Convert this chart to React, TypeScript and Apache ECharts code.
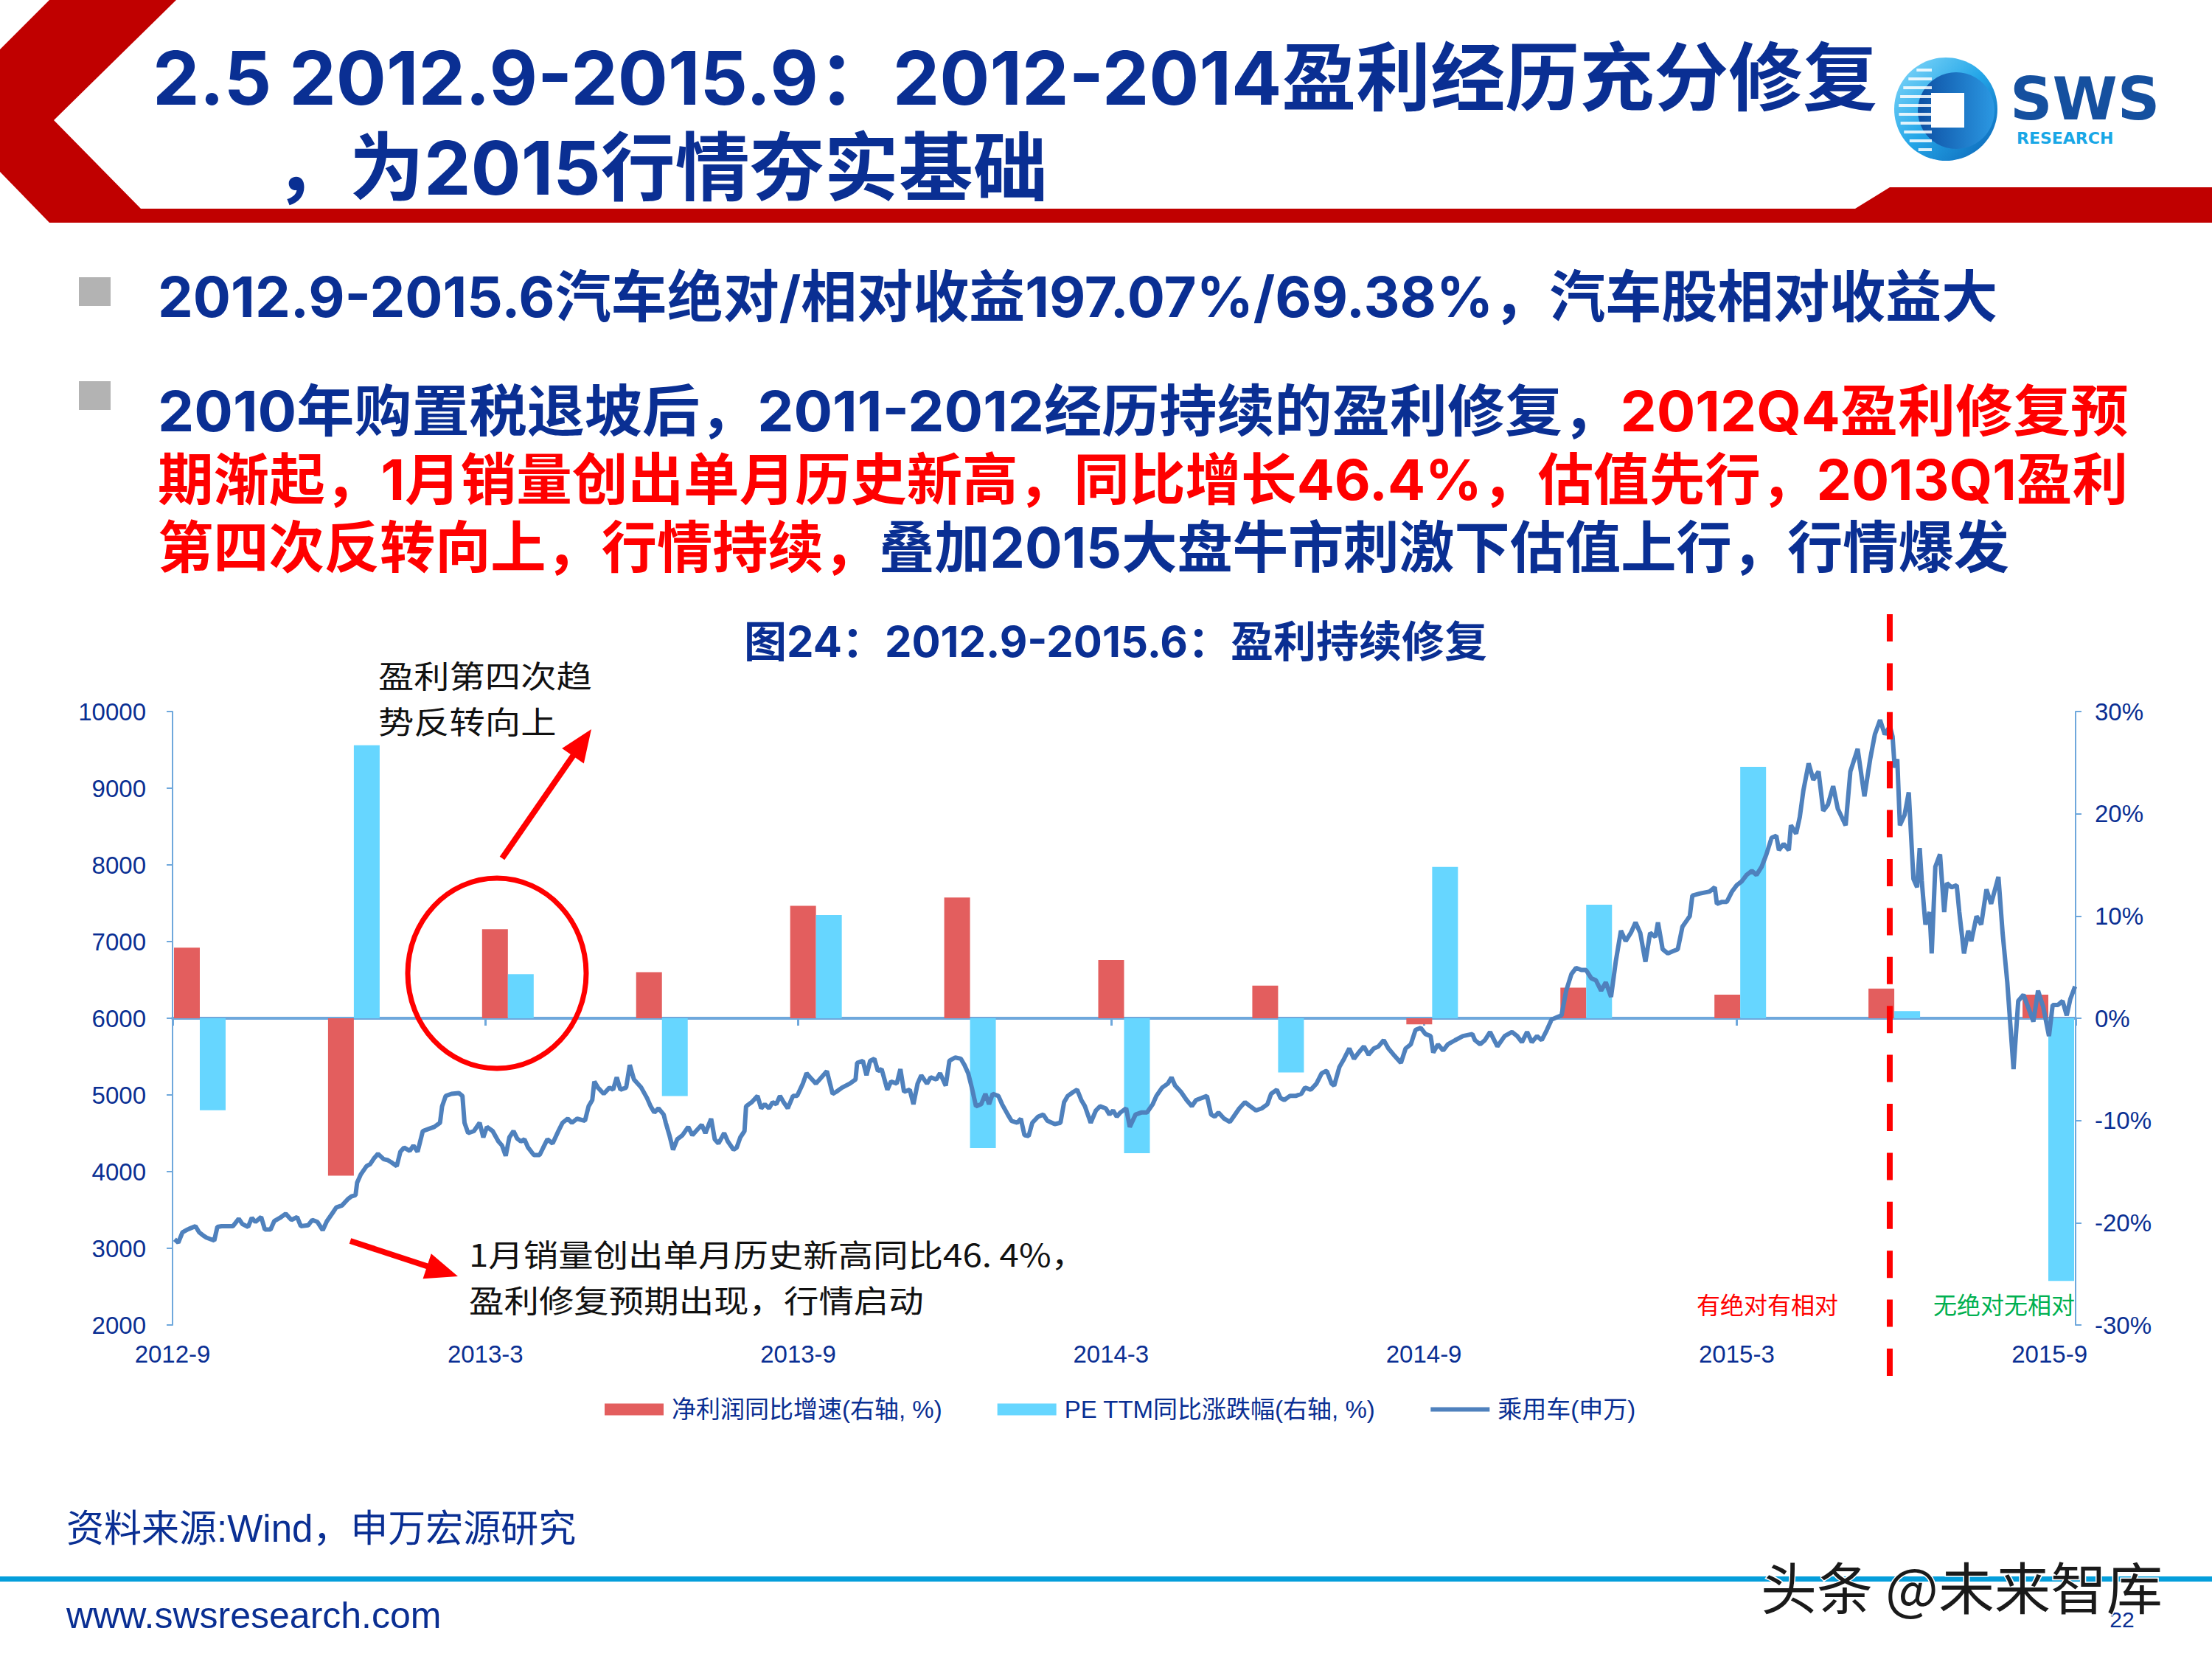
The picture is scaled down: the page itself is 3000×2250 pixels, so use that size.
import React, { useEffect, useRef } from 'react';
import * as echarts from 'echarts';

// ---------- DATA ----------
const quarters = ['2012Q3', '2012Q4', '2013Q1', '2013Q2', '2013Q3', '2013Q4', '2014Q1', '2014Q2', '2014Q3', '2014Q4', '2015Q1', '2015Q2', '2015Q3'];
// 净利润同比增速(右轴, %)
const profitGrowth = [6.9, -15.4, 8.7, 4.5, 11.0, 11.8, 5.7, 3.2, -0.6, 3.0, 2.3, 2.9, 2.3];
// PE TTM同比涨跌幅(右轴, %)
const peChange = [-9.0, 26.7, 4.3, -7.6, 10.1, -12.7, -13.2, -5.3, 14.8, 11.1, 24.6, 0.7, -25.7];
// x-axis tick labels (every 6 months starting 2012-9)
const xTickLabels = ['2012-9', '2013-3', '2013-9', '2014-3', '2014-9', '2015-3', '2015-9'];
// 乘用车(申万) index: [months since 2012-09-01, level]
const carIndex: [number, number][] = [
  [0.04, 3117], [0.11, 3074], [0.19, 3209], [0.29, 3246], [0.44, 3289], [0.51, 3209], [0.58, 3171], [0.65, 3139], [0.8, 3101], [0.86, 3279], [0.94, 3289], [1.16, 3289], [1.27, 3386], [1.34, 3316], [1.45, 3279], [1.52, 3397], [1.59, 3343], [1.7, 3408], [1.77, 3246], [1.88, 3246], [1.95, 3354], [2.06, 3397], [2.17, 3451], [2.28, 3370], [2.39, 3408], [2.46, 3289], [2.6, 3300], [2.68, 3370], [2.78, 3343], [2.88, 3236], [2.96, 3354], [3.07, 3462], [3.14, 3532], [3.25, 3559], [3.36, 3640], [3.43, 3677], [3.51, 3694], [3.54, 3855], [3.61, 3963], [3.72, 4071], [3.79, 4098], [3.87, 4179], [3.94, 4232], [4.05, 4162], [4.12, 4152], [4.19, 4125], [4.3, 4071], [4.37, 4259], [4.44, 4313], [4.55, 4270], [4.62, 4340], [4.7, 4259], [4.8, 4529], [4.91, 4556], [5.02, 4583], [5.13, 4637], [5.17, 4852], [5.24, 4987], [5.35, 5014], [5.49, 5025], [5.56, 4987], [5.6, 4637], [5.67, 4502], [5.78, 4529], [5.89, 4637], [5.96, 4447], [6.03, 4583], [6.14, 4529], [6.25, 4394], [6.32, 4340], [6.39, 4206], [6.46, 4447], [6.54, 4529], [6.61, 4432], [6.68, 4394], [6.75, 4421], [6.82, 4313], [6.93, 4216], [7.04, 4216], [7.11, 4313], [7.19, 4421], [7.29, 4367], [7.4, 4529], [7.48, 4637], [7.58, 4690], [7.66, 4637], [7.76, 4690], [7.91, 4663], [7.98, 4852], [8.05, 4932], [8.09, 5175], [8.16, 5095], [8.27, 5014], [8.38, 5095], [8.45, 5068], [8.52, 5229], [8.59, 5068], [8.7, 5095], [8.77, 5390], [8.85, 5202], [8.92, 5148], [8.99, 5095], [9.1, 4960], [9.17, 4852], [9.24, 4771], [9.32, 4825], [9.42, 4744], [9.46, 4637], [9.53, 4475], [9.6, 4286], [9.68, 4421], [9.78, 4475], [9.89, 4583], [9.97, 4475], [10.04, 4529], [10.15, 4610], [10.22, 4502], [10.33, 4690], [10.4, 4421], [10.47, 4367], [10.58, 4502], [10.65, 4394], [10.76, 4286],
  [10.82, 4313], [10.89, 4447], [10.97, 4529], [11.0, 4852], [11.11, 4906], [11.22, 4987], [11.29, 4825], [11.36, 4879], [11.44, 4825], [11.51, 4906], [11.58, 4879], [11.65, 4987], [11.72, 4906], [11.8, 4825], [11.9, 4987], [11.98, 4987], [12.09, 5148], [12.16, 5283], [12.23, 5229], [12.34, 5148], [12.41, 5202], [12.55, 5310], [12.66, 5014], [12.73, 5041], [12.84, 5095], [12.99, 5148], [13.1, 5202], [13.13, 5418], [13.24, 5445], [13.31, 5256], [13.38, 5445], [13.46, 5472], [13.53, 5310], [13.6, 5337], [13.71, 5068], [13.78, 5175], [13.89, 5148], [13.96, 5337], [14.03, 5041], [14.14, 5068], [14.21, 4879], [14.29, 5148], [14.36, 5256], [14.47, 5148], [14.54, 5229], [14.65, 5202], [14.72, 5283], [14.83, 5121], [14.9, 5445], [15.01, 5488], [15.12, 5472], [15.19, 5390], [15.26, 5283], [15.33, 5095], [15.41, 4852], [15.51, 4879], [15.59, 5014], [15.66, 4879], [15.73, 5014], [15.84, 4987], [15.91, 4879], [16.02, 4744], [16.09, 4663], [16.2, 4637], [16.27, 4690], [16.34, 4475], [16.42, 4464], [16.49, 4637], [16.6, 4717], [16.7, 4744], [16.78, 4663], [16.92, 4620], [17.03, 4637], [17.1, 4906], [17.17, 4987], [17.28, 5041], [17.35, 5068], [17.43, 4933], [17.5, 4852], [17.61, 4637], [17.71, 4798], [17.79, 4852], [17.9, 4825], [17.97, 4744], [18.04, 4798], [18.11, 4717], [18.18, 4771], [18.29, 4825], [18.36, 4583], [18.47, 4744], [18.58, 4771], [18.69, 4771], [18.8, 4879], [18.87, 4987], [18.98, 5095], [19.09, 5148], [19.16, 5229], [19.23, 5121], [19.34, 5041], [19.45, 4933], [19.55, 4852], [19.63, 4933], [19.74, 4960], [19.84, 4987], [19.92, 4744], [19.99, 4717], [20.06, 4771], [20.17, 4690], [20.28, 4648], [20.35, 4717], [20.46, 4825], [20.57, 4906], [20.67, 4852], [20.78, 4798], [20.89, 4825], [21.0, 4879], [21.07, 5014], [21.18, 5068], [21.25, 4960], [21.32, 4933], [21.43, 4987], [21.54, 4987], [21.65, 5014], [21.72, 5095], [21.83, 5068], [21.94, 5148], [22.04, 5283], [22.12, 5310],
  [22.14, 5310], [22.23, 5148], [22.28, 5121], [22.38, 5364], [22.47, 5472], [22.57, 5606], [22.66, 5472], [22.75, 5553], [22.85, 5633], [22.94, 5525], [23.04, 5606], [23.13, 5633], [23.23, 5714], [23.32, 5606], [23.42, 5525], [23.56, 5418], [23.65, 5606], [23.75, 5660], [23.84, 5848], [23.94, 5875], [24.03, 5794], [24.13, 5768], [24.18, 5552], [24.27, 5660], [24.37, 5579], [24.46, 5660], [24.6, 5714], [24.75, 5768], [24.93, 5794], [24.98, 5714], [25.08, 5660], [25.17, 5714], [25.27, 5821], [25.41, 5633], [25.55, 5768], [25.69, 5821], [25.79, 5768], [25.88, 5687], [25.98, 5821], [26.07, 5687], [26.17, 5768], [26.26, 5714], [26.36, 5848], [26.45, 5984], [26.54, 6010], [26.64, 6037], [26.73, 6360], [26.83, 6576], [26.92, 6657], [27.02, 6630], [27.11, 6630], [27.21, 6522], [27.3, 6495], [27.4, 6360], [27.49, 6468], [27.59, 6279], [27.68, 6737], [27.78, 7142], [27.87, 7007], [27.97, 7114], [28.06, 7250], [28.15, 7114], [28.25, 6737], [28.34, 7114], [28.44, 7060], [28.49, 7250], [28.58, 6900], [28.68, 6845], [28.77, 6872], [28.87, 6900], [28.96, 7195], [29.1, 7331], [29.15, 7600], [29.29, 7626], [29.48, 7653], [29.58, 7708], [29.62, 7492], [29.72, 7518], [29.81, 7518], [29.91, 7653], [30.0, 7734], [30.1, 7788], [30.19, 7869], [30.29, 7922], [30.38, 7869], [30.48, 7977], [30.57, 8138], [30.67, 8354], [30.76, 8380], [30.81, 8192], [30.9, 8274], [31.0, 8192], [31.04, 8516], [31.14, 8407], [31.21, 8623], [31.28, 8974], [31.38, 9324], [31.47, 9109], [31.57, 9217], [31.66, 8705], [31.75, 8785], [31.85, 9027], [31.94, 8730], [32.09, 8516], [32.18, 9217], [32.32, 9512], [32.45, 8893], [32.56, 9378], [32.65, 9701], [32.75, 9890], [32.84, 9701], [32.94, 9809], [32.99, 9674], [33.03, 9269], [33.08, 9378], [33.13, 8516], [33.22, 8651], [33.3, 8946], [33.39, 7816], [33.46, 7708], [33.51, 8219], [33.55, 7788], [33.62, 7222], [33.7, 7384], [33.74, 6845], [33.81, 7976], [33.9, 8138], [33.98, 7384], [34.03, 7761], [34.12, 7708], [34.22, 7734], [34.27, 7384], [34.36, 6845], [34.44, 7142], [34.5, 7007], [34.6, 7331], [34.69, 7222], [34.79, 7680], [34.88, 7492], [35.02, 7843], [35.1, 7114], [35.19, 6468], [35.31, 5337], [35.4, 6226], [35.5, 6307], [35.59, 6145], [35.69, 5956], [35.78, 6360], [35.88, 6145], [35.99, 5768], [36.06, 6172], [36.16, 6172], [36.25, 6226], [36.33, 6037], [36.4, 6253], [36.49, 6415],
];
const dividerDate = '2015-05-30';

// ---------- STYLE ----------
const NAVY = '#0A2F93';
const RED = '#FF0000';
const BAR_RED = '#E35E5E';
const BAR_BLUE = '#66D6FF';
const LINE_BLUE = '#4F81BD';
const AXIS_BLUE = '#6FA8DC';
const CJK = "'Noto Sans CJK SC'";
const MIX = "Inter, 'Noto Sans CJK SC'";
const ARIAL = "'Liberation Sans', 'Noto Sans CJK SC'";

function monthsSince(d: string) {
  const [y, m, day] = d.split('-').map(Number);
  const dim = new Date(y, m, 0).getDate();
  return (y - 2012) * 12 + (m - 9) + (day - 1) / dim;
}

function arrow(x1: number, y1: number, x2: number, y2: number, w: number, hl: number, hw: number, color: string) {
  const dx = x2 - x1, dy = y2 - y1, len = Math.hypot(dx, dy);
  const ux = dx / len, uy = dy / len;
  const bx = x2 - ux * hl, by = y2 - uy * hl;
  return [
    { type: 'line', z: 100, shape: { x1, y1, x2: bx + ux * 4, y2: by + uy * 4 }, style: { stroke: color, lineWidth: w } },
    { type: 'polygon', z: 100, shape: { points: [[x2, y2], [bx - uy * hw, by + ux * hw], [bx + uy * hw, by - ux * hw]] }, style: { fill: color } },
  ];
}

function txt(x: number, y: number, text: string, size: number, color: string, opts: any = {}) {
  return {
    type: 'text', x, y, z: opts.z ?? 50, scaleX: opts.scaleX ?? 1,
    style: {
      text, fill: color, fontSize: size, fontWeight: opts.weight ?? 'normal', fontFamily: opts.family ?? CJK,
      align: opts.align ?? 'left', verticalAlign: 'middle', rich: opts.rich, stroke: opts.stroke, lineWidth: opts.lineWidth,
      lineHeight: opts.lineHeight,
    },
  };
}

function buildStatic(): any[] {
  const els: any[] = [];
  // header red band
  els.push({
    type: 'polygon', z: 10,
    shape: { points: [[67, 0], [239, 0], [73, 163], [191, 283], [2516, 283], [2563, 254], [3000, 254], [3000, 302], [67, 302], [0, 233], [0, 67]] },
    style: { fill: '#C00000' },
  });
  // title
  els.push(txt(207, 105, '2.5 2012.9-2015.9：2012-2014盈利经历充分修复', 101, NAVY, { weight: 'bold', family: MIX }));
  els.push(txt(373, 227, '，为2015行情夯实基础', 101, NAVY, { weight: 'bold', family: MIX }));
  // logo
  const cx = 2639, cy = 148, r = 70;
  els.push({ type: 'circle', z: 20, shape: { cx, cy, r }, style: { fill: new echarts.graphic.LinearGradient(0, 0, 1, 1, [{ offset: 0, color: '#8ADCFB' }, { offset: 0.5, color: '#24A6E8' }, { offset: 1, color: '#0B62B5' }]) } });
  els.push({ type: 'circle', z: 21, shape: { cx: cx + 14, cy: cy + 2, r: 52 }, style: { fill: new echarts.graphic.LinearGradient(0, 0, 1, 0, [{ offset: 0, color: '#0D4FA3' }, { offset: 1, color: '#2B98E2' }]) } });
  for (let i = 0; i < 10; i++) {
    const sy = cy - 55 + i * 12;
    const half = Math.sqrt(Math.max(0, r * r - (sy + 2 - cy) * (sy + 2 - cy)));
    const lx = cx - half + 6;
    els.push({ type: 'rect', z: 22, shape: { x: lx, y: sy, width: Math.max(0, 2620 - lx), height: 4 }, style: { fill: '#FFFFFF', opacity: 0.85 } });
  }
  els.push({ type: 'rect', z: 23, shape: { x: 2619, y: 126, width: 45, height: 47 }, style: { fill: '#FFFFFF' } });
  els.push(txt(2726, 134, 'SWS', 80, '#15509F', { weight: 'bold', family: "'DejaVu Sans'" }));
  els.push(txt(2735, 187, 'RESEARCH', 22, '#19A7E6', { weight: 'bold', family: "'DejaVu Sans'" }));
  // bullets
  els.push({ type: 'rect', z: 10, shape: { x: 107, y: 376, width: 43, height: 39 }, style: { fill: '#B3B3B3' } });
  els.push({ type: 'rect', z: 10, shape: { x: 107, y: 517, width: 43, height: 39 }, style: { fill: '#B3B3B3' } });
  const rich = {
    b: { fill: NAVY, fontSize: 76, fontWeight: 'bold', fontFamily: MIX },
    r: { fill: RED, fontSize: 76, fontWeight: 'bold', fontFamily: MIX },
  };
  els.push(txt(214, 402, '{b|2012.9-2015.6汽车绝对/相对收益197.07%/69.38%，汽车股相对收益大}', 76, NAVY, { weight: 'bold', family: MIX, rich }));
  els.push(txt(214, 557, '{b|2010年购置税退坡后，2011-2012经历持续的盈利修复，}{r|2012Q4盈利修复预}', 76, NAVY, { weight: 'bold', family: MIX, rich, scaleX: 1.028 }));
  els.push(txt(214, 650, '{r|期渐起，1月销量创出单月历史新高，同比增长46.4%，估值先行，2013Q1盈利}', 76, RED, { weight: 'bold', family: MIX, rich, scaleX: 0.995 }));
  els.push(txt(214, 742, '{r|第四次反转向上，行情持续，}{b|叠加2015大盘牛市刺激下估值上行，行情爆发}', 76, NAVY, { weight: 'bold', family: MIX, rich, scaleX: 0.99 }));
  // chart title
  els.push(txt(1513, 870, '图24：2012.9-2015.6：盈利持续修复', 58, NAVY, { weight: 'bold', family: MIX, align: 'center' }));
  // annotations
  els.push(txt(513, 946, '盈利第四次趋\n势反转向上', 42, '#111111', { lineHeight: 62, scaleX: 1.15 }));
  els.push(...arrow(681, 1164, 802, 989, 8, 44, 18, RED));
  els.push({ type: 'ellipse', z: 100, shape: { cx: 674, cy: 1320, rx: 121, ry: 129 }, style: { fill: 'none', stroke: RED, lineWidth: 7 } });
  els.push(...arrow(475, 1683, 621, 1731, 8, 44, 18, RED));
  els.push(txt(636, 1731, '1月销量创出单月历史新高同比46. 4%，\n盈利修复预期出现，行情启动', 42, '#111111', { lineHeight: 62, scaleX: 1.13 }));
  els.push(txt(2301, 1768, '有绝对有相对', 32, RED));
  els.push(txt(2622, 1768, '无绝对无相对', 32, '#00B050'));
  // footer
  els.push(txt(90, 2073, '资料来源:Wind，申万宏源研究', 51, NAVY, { family: ARIAL }));
  els.push({ type: 'rect', z: 10, shape: { x: 0, y: 2138, width: 3000, height: 7 }, style: { fill: '#049EDB' } });
  els.push(txt(90, 2191, 'www.swsresearch.com', 50, NAVY, { family: "'Liberation Sans'" }));
  els.push(txt(2878, 2196, '22', 30, NAVY, { family: "'Liberation Sans'", align: 'center' }));
  els.push(txt(2388, 2150, '头条 @未来智库', 76, '#1A1A1A', { stroke: '#FFFFFF', lineWidth: 3, z: 60 }));
  return els;
}

export default function App() {
  const ref = useRef<HTMLDivElement>(null);
  useEffect(() => {
    if (!ref.current) return;
    const chart = echarts.init(ref.current, undefined, { renderer: 'svg' });
    const axisLabelFont = { fontFamily: "'Liberation Sans'", fontSize: 33, color: NAVY };
    chart.setOption({
      animation: false,
      backgroundColor: '#FFFFFF',
      grid: { left: 234, right: 185, top: 965, bottom: 453, containLabel: false },
      legend: {
        left: 820, top: 1895, padding: 0, itemWidth: 80, itemHeight: 16, itemGap: 75,
        textStyle: { fontSize: 33, color: NAVY, fontFamily: ARIAL, padding: [0, 0, 0, 6] },
        data: [
          { name: '净利润同比增速(右轴, %)', icon: 'rect' },
          { name: 'PE TTM同比涨跌幅(右轴, %)', icon: 'rect' },
          { name: '乘用车(申万)', icon: 'path://M0,0 L80,0 L80,6 L0,6 Z' },
        ],
      },
      xAxis: [
        {
          type: 'value', min: 0, max: 36.5, interval: 6, position: 'bottom',
          axisLine: { show: false, onZero: false }, axisTick: { show: false }, splitLine: { show: false },
          axisLabel: { ...axisLabelFont, margin: 23, formatter: (v: number) => (v % 6 === 0 ? xTickLabels[v / 6] ?? '' : '') },
        },
        {
          type: 'value', min: 0, max: 36.5, interval: 6, position: 'bottom',
          axisLine: { show: true, onZero: true, onZeroAxisIndex: 1, lineStyle: { color: AXIS_BLUE, width: 4 } },
          axisTick: { show: true, length: 10, lineStyle: { color: AXIS_BLUE, width: 3 } },
          axisLabel: { show: false }, splitLine: { show: false },
        },
        {
          type: 'value', min: -0.177, max: 12.177, show: false,
          axisLine: { show: false, onZero: false }, splitLine: { show: false },
        },
      ],
      yAxis: [
        {
          type: 'value', position: 'left', min: 2000, max: 10000, interval: 1000,
          axisLine: { show: true, onZero: false, lineStyle: { color: AXIS_BLUE, width: 2 } },
          axisTick: { show: true, length: 8, lineStyle: { color: AXIS_BLUE, width: 2 } },
          axisLabel: { ...axisLabelFont, margin: 36, formatter: (v: number) => String(v) }, splitLine: { show: false },
        },
        {
          type: 'value', position: 'right', min: -30, max: 30, interval: 10,
          axisLine: { show: true, onZero: false, lineStyle: { color: AXIS_BLUE, width: 2 } },
          axisTick: { show: true, length: 8, lineStyle: { color: AXIS_BLUE, width: 2 } },
          axisLabel: { ...axisLabelFont, margin: 26, formatter: '{value}%' }, splitLine: { show: false },
        },
      ],
      series: [
        {
          name: '净利润同比增速(右轴, %)', type: 'bar', xAxisIndex: 2, yAxisIndex: 1, barWidth: 35, barGap: '0%',
          itemStyle: { color: BAR_RED }, data: profitGrowth.map((v, i) => [i, v]), z: 2,
        },
        {
          name: 'PE TTM同比涨跌幅(右轴, %)', type: 'bar', xAxisIndex: 2, yAxisIndex: 1, barWidth: 35, barGap: '0%',
          itemStyle: { color: BAR_BLUE }, data: peChange.map((v, i) => [i, v]), z: 2,
        },
        {
          name: '乘用车(申万)', type: 'line', xAxisIndex: 0, yAxisIndex: 0, symbol: 'none', showSymbol: false,
          lineStyle: { color: LINE_BLUE, width: 6 }, itemStyle: { color: LINE_BLUE }, data: carIndex, z: 5,
        },
      ],
    });
    const dx = chart.convertToPixel({ xAxisIndex: 0 }, monthsSince(dividerDate)) as number;
    const graphics = buildStatic();
    graphics.push({
      type: 'line', z: 120, shape: { x1: dx, y1: 833, x2: dx, y2: 1868 },
      style: { stroke: RED, lineWidth: 8, lineDash: [37, 29.4] },
    });
    chart.setOption({ graphic: { elements: graphics } });
    return () => chart.dispose();
  }, []);
  return <div ref={ref} style={{ position: 'absolute', left: 0, top: 0, width: 3000, height: 2250 }} />;
}
